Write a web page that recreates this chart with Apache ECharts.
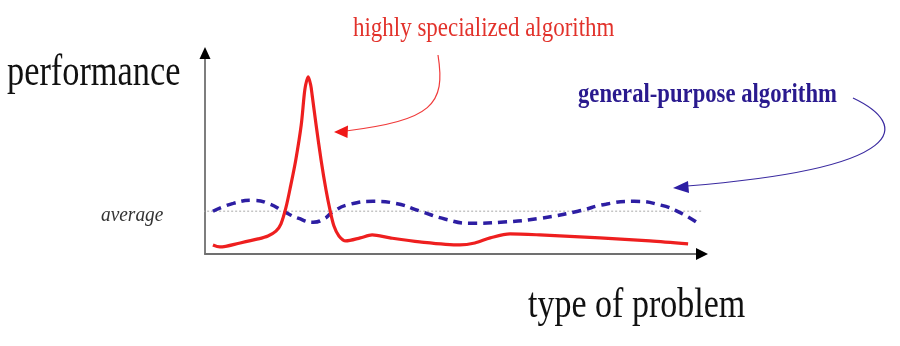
<!DOCTYPE html>
<html>
<head>
<meta charset="utf-8">
<script src="https://cdn.jsdelivr.net/npm/echarts@6/dist/echarts.min.js"></script>
<style>
html,body{margin:0;padding:0;background:#fff;}
#chart{width:900px;height:346px;}
</style>
</head>
<body>
<div id="chart"></div>
<script>
// ---- data (abstract units: x 0..100 = type of problem, y 0..100 = performance) ----
const specializedX = [1.6, 3.0, 7.1, 10.7, 12.7, 14.3, 15.3, 16.3, 17.3, 18.3, 19.4, 20.0, 20.3, 20.8, 21.3, 21.6, 22.4, 23.4, 24.4, 25.2, 26.0, 27.0, 28.4, 31.3, 33.7, 37.3, 43.3, 51.4, 54.4, 57.5, 61.5, 67.5, 79.6, 89.7, 97.4];
const specializedY = [4.5, 3.5, 5.5, 7.5, 9.0, 11.4, 14.9, 22.9, 34.3, 46.8, 64.2, 79.1, 84.2, 88.1, 84.2, 79.1, 64.2, 46.8, 31.8, 21.9, 13.9, 9.0, 6.5, 8.0, 9.5, 8.0, 6.0, 4.5, 5.5, 8.0, 10.0, 9.5, 8.0, 6.5, 5.0];
const generalX = [1.6, 5.7, 9.7, 13.1, 15.8, 18.8, 21.8, 24.2, 25.9, 29.3, 33.9, 38.4, 43.4, 48.5, 53.5, 59.6, 67.7, 75.2, 80.8, 86.5, 91.9, 96.0, 99.4];
const generalY = [21.3, 25.2, 26.7, 24.8, 21.3, 17.8, 15.8, 17.8, 21.3, 24.8, 26.2, 25.2, 21.3, 17.3, 15.3, 15.8, 17.8, 21.3, 24.8, 26.2, 24.3, 20.3, 15.3];
const averageLevel = 21.3;
const averageSpan = [-3.6, 100.8];
const axisRange = [0, 100];

const labels = {
  yName: 'performance',
  xName: 'type of problem',
  average: 'average',
  specialized: 'highly specialized algorithm',
  general: 'general-purpose algorithm'
};

const zip = (xs, ys) => xs.map((x, i) => [x, ys[i]]);

const chart = echarts.init(document.getElementById('chart'), null, {renderer: 'canvas'});
const RED = '#ee1f1f';
const BLUE = '#2d1ea3';
const serif = '"Liberation Serif", "Times New Roman", serif';

const axisCommon = {
  type: 'value', min: axisRange[0], max: axisRange[1],
  axisLine: {show: true, lineStyle: {color: '#707070', width: 1.8}},
  axisTick: {show: false}, axisLabel: {show: false}, splitLine: {show: false}
};

const baseGraphic = [
  {type: 'text', x: 7, y: 73, scaleX: 0.78, z: 10,
   style: {text: labels.yName, font: '44px ' + serif, fill: '#111', verticalAlign: 'middle', align: 'left'}},
  {type: 'text', x: 528, y: 306, scaleX: 0.81, z: 10,
   style: {text: labels.xName, font: '42px ' + serif, fill: '#111', verticalAlign: 'middle', align: 'left'}},
  {type: 'text', x: 101, y: 215, scaleX: 0.88, z: 10,
   style: {text: labels.average, font: 'italic 22px ' + serif, fill: '#333', verticalAlign: 'middle', align: 'left'}},
  {type: 'text', x: 353, y: 29, scaleX: 0.82, z: 10,
   style: {text: labels.specialized, font: '28px ' + serif, fill: '#e2322b', verticalAlign: 'middle', align: 'left'}},
  {type: 'text', x: 578, y: 95, scaleX: 0.84, z: 10,
   style: {text: labels.general, font: 'bold 27px ' + serif, fill: '#2a1a8e', verticalAlign: 'middle', align: 'left'}},
  // red annotation arrow
  {type: 'bezierCurve', z: 10, silent: true,
   shape: {x1: 438, y1: 55, cpx1: 446, cpy1: 105, cpx2: 432, cpy2: 120, x2: 346, y2: 131},
   style: {stroke: '#f03a3a', lineWidth: 1.2, fill: null}},
  {type: 'polygon', z: 10, silent: true,
   shape: {points: [[334, 132], [348, 125.5], [347.5, 138]]},
   style: {fill: '#f01818'}},
  // blue annotation arrow
  {type: 'bezierCurve', z: 10, silent: true,
   shape: {x1: 853, y1: 98, cpx1: 910, cpy1: 125, cpx2: 910, cpy2: 168, x2: 687, y2: 186},
   style: {stroke: '#3a2aa0', lineWidth: 1.2, fill: null}},
  {type: 'polygon', z: 10, silent: true,
   shape: {points: [[673, 188], [688, 181], [689, 193]]},
   style: {fill: '#2d1ea3'}}
];

chart.setOption({
  animation: false,
  backgroundColor: '#ffffff',
  grid: {left: 205, right: 199, top: 53, bottom: 92, containLabel: false},
  xAxis: Object.assign({}, axisCommon),
  yAxis: Object.assign({}, axisCommon),
  series: [
    {
      type: 'line', silent: true, clip: false, symbol: 'none', z: 1,
      data: averageSpan.map(x => [x, averageLevel]),
      lineStyle: {color: '#a8a8a8', width: 1, type: [2, 2]}
    },
    {
      type: 'line', silent: true, symbol: 'none', smooth: 0.3, z: 3,
      data: zip(specializedX, specializedY),
      lineStyle: {color: RED, width: 3.2}
    },
    {
      type: 'line', silent: true, symbol: 'none', smooth: 0.5, z: 2,
      data: zip(generalX, generalY),
      lineStyle: {color: BLUE, width: 3.5, type: [9, 6]}
    }
  ],
  graphic: baseGraphic
});

// black arrowheads at the ends of the axes, placed from the axis scale
const xEnd = chart.convertToPixel({gridIndex: 0}, [axisRange[1], axisRange[0]]);
const yEnd = chart.convertToPixel({gridIndex: 0}, [axisRange[0], axisRange[1]]);
chart.setOption({
  graphic: baseGraphic.concat([
    {type: 'polygon', z: 11, silent: true,
     shape: {points: [[xEnd[0] - 5, xEnd[1] - 6], [xEnd[0] + 7, xEnd[1]], [xEnd[0] - 5, xEnd[1] + 6]]},
     style: {fill: '#000'}},
    {type: 'polygon', z: 11, silent: true,
     shape: {points: [[yEnd[0] - 5.5, yEnd[1] + 6], [yEnd[0], yEnd[1] - 6], [yEnd[0] + 5.5, yEnd[1] + 6]]},
     style: {fill: '#000'}}
  ])
});
</script>
</body>
</html>
